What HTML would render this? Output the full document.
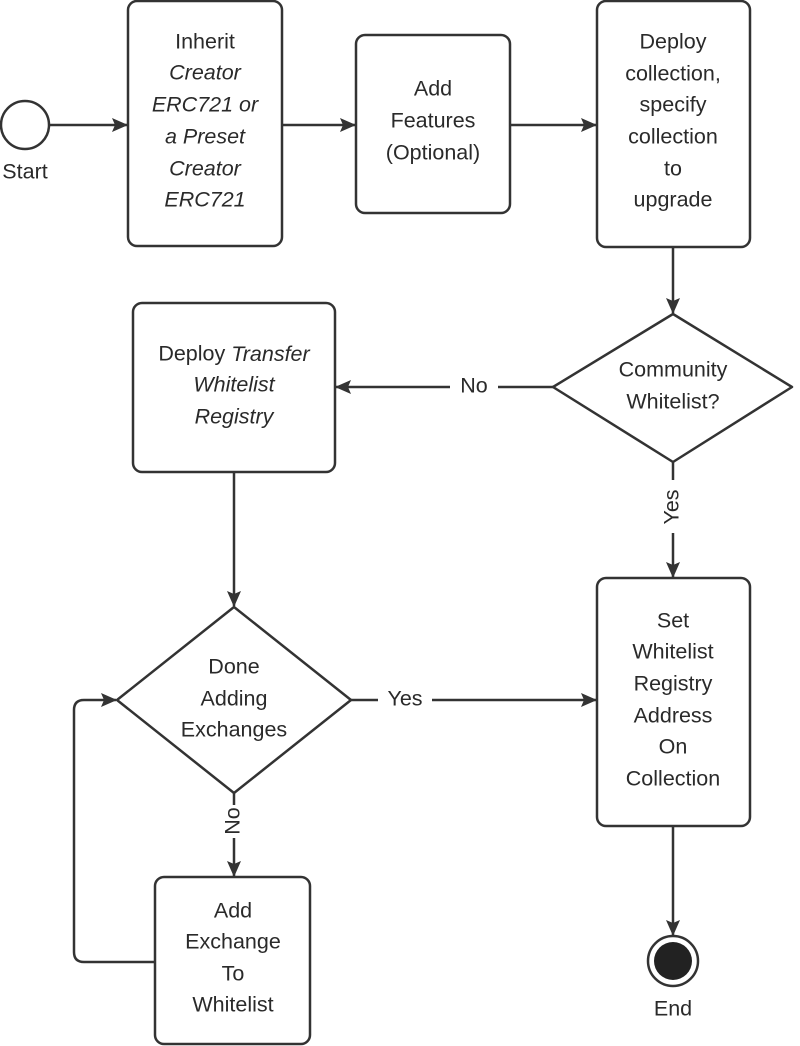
<!DOCTYPE html>
<html><head><meta charset="utf-8"><style>
html,body{margin:0;padding:0;background:#fff;}
svg{display:block;}
text{font-family:"Liberation Sans","DejaVu Sans",sans-serif;font-size:21.5px;fill:#2a2a2a;text-anchor:middle;dominant-baseline:middle;}
.i{font-style:italic;}
</style></head><body>
<svg width="800" height="1046" viewBox="0 0 800 1046" xmlns="http://www.w3.org/2000/svg">
<defs>
<marker id="a" markerWidth="16" markerHeight="14" refX="15" refY="7" orient="auto" markerUnits="userSpaceOnUse" viewBox="0 0 16 14">
<path d="M0,0 L16,7 L0,14 L3,7 z" fill="#333"/>
</marker>
</defs>
<g fill="none" stroke="#333" stroke-width="2.5">
<circle cx="25" cy="125" r="24" fill="#fff"/>
<rect x="128" y="1" width="154" height="245" rx="9"/>
<rect x="356" y="35" width="154" height="178" rx="9"/>
<rect x="597" y="1" width="153" height="246" rx="9"/>
<path d="M673,314 L792,387 L673,462 L553,387 Z" stroke-linejoin="round"/>
<rect x="133" y="303" width="202" height="169" rx="9"/>
<path d="M234,607 L351,700 L234,793 L117,700 Z" stroke-linejoin="round"/>
<rect x="597" y="578" width="153" height="248" rx="9"/>
<rect x="155" y="877" width="155" height="167" rx="9"/>
<circle cx="673" cy="961" r="25"/>
<path d="M50,125 H127" marker-end="url(#a)"/>
<path d="M282,125 H355" marker-end="url(#a)"/>
<path d="M510,125 H596" marker-end="url(#a)"/>
<path d="M673,247 V313" marker-end="url(#a)"/>
<path d="M553,387 H498 M450,387 H336" marker-end="url(#a)"/>
<path d="M673,462 V480 M673,533 V577" marker-end="url(#a)"/>
<path d="M234,472 V606" marker-end="url(#a)"/>
<path d="M351,700 H378 M432,700 H596" marker-end="url(#a)"/>
<path d="M234,793 V805 M234,838 V876" marker-end="url(#a)"/>
<path d="M673,826 V935" marker-end="url(#a)"/>
<path d="M155,962 H84 Q74,962 74,952 V710 Q74,700 84,700 H116" marker-end="url(#a)"/>
</g>
<circle cx="673" cy="961" r="19" fill="#222"/>
<text x="25" y="173">Start</text>
<text x="205" y="43">Inherit</text>
<text x="205" y="74" class="i">Creator</text>
<text x="205" y="106" class="i">ERC721 or</text>
<text x="205" y="138" class="i">a Preset</text>
<text x="205" y="170" class="i">Creator</text>
<text x="205" y="201" class="i">ERC721</text>
<text x="433" y="90">Add</text>
<text x="433" y="122">Features</text>
<text x="433" y="154">(Optional)</text>
<text x="673" y="43">Deploy</text>
<text x="673" y="75">collection,</text>
<text x="673" y="106">specify</text>
<text x="673" y="138">collection</text>
<text x="673" y="170">to</text>
<text x="673" y="201">upgrade</text>
<text x="673" y="371">Community</text>
<text x="673" y="403">Whitelist?</text>
<text x="474" y="387">No</text>
<text x="234" y="355">Deploy <tspan class="i">Transfer</tspan></text>
<text x="234" y="386" class="i">Whitelist</text>
<text x="234" y="418" class="i">Registry</text>
<text x="673" y="507" transform="rotate(-90 673 507)">Yes</text>
<text x="234" y="668">Done</text>
<text x="234" y="700">Adding</text>
<text x="234" y="731">Exchanges</text>
<text x="405" y="700">Yes</text>
<text x="234" y="821" transform="rotate(-90 234 821)">No</text>
<text x="673" y="622">Set</text>
<text x="673" y="653">Whitelist</text>
<text x="673" y="685">Registry</text>
<text x="673" y="717">Address</text>
<text x="673" y="748">On</text>
<text x="673" y="780">Collection</text>
<text x="233" y="912">Add</text>
<text x="233" y="943">Exchange</text>
<text x="233" y="975">To</text>
<text x="233" y="1006">Whitelist</text>
<text x="673" y="1010">End</text>
</svg>
</body></html>
